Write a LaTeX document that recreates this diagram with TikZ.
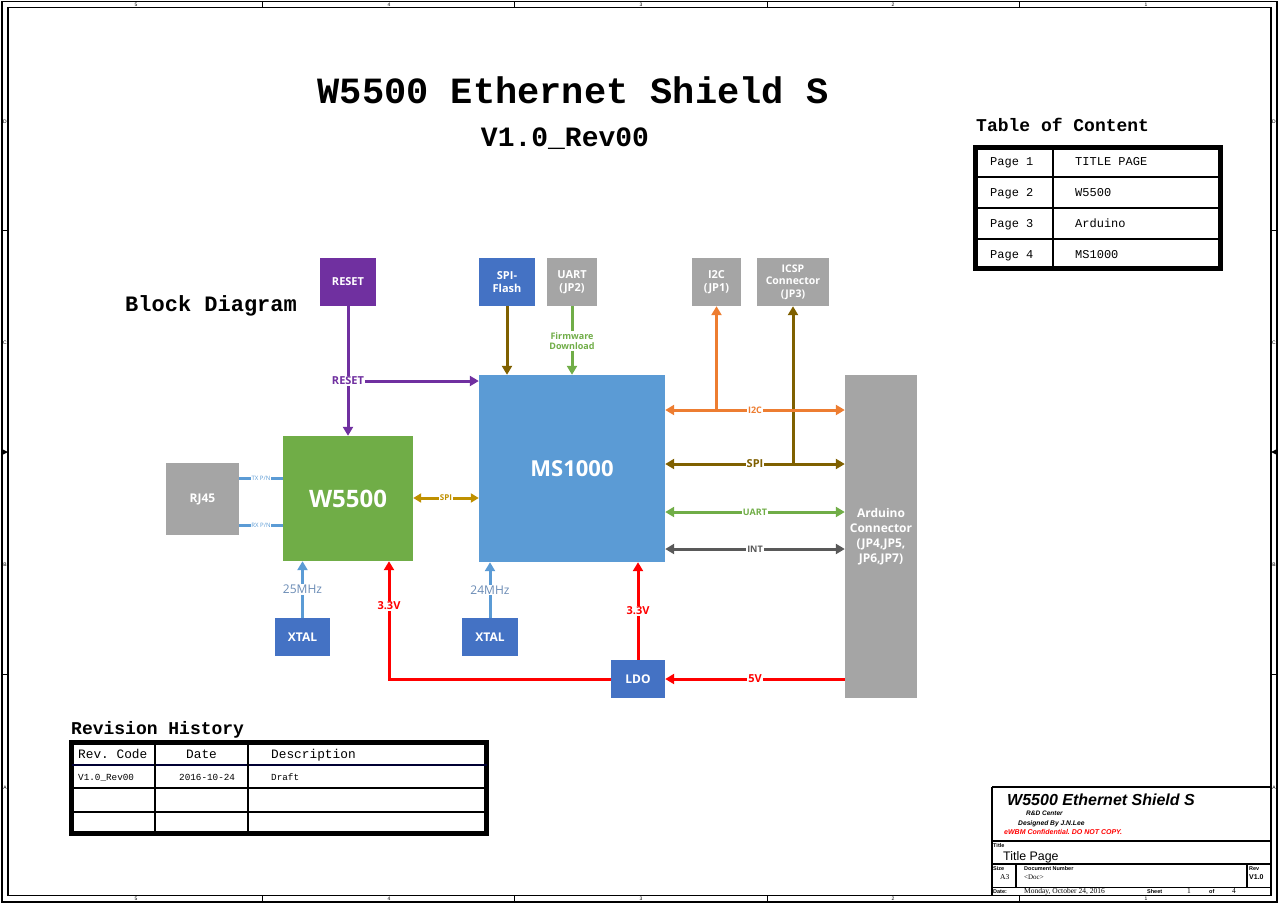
\documentclass[tikz,border=0pt]{standalone}
\usepackage{fontspec}
\setmainfont{Open Sans}
\newfontfamily\courierfont{Liberation Mono}
\newfontfamily\arialfont{Liberation Sans}
\newfontfamily\timesfont{Liberation Serif}
\usetikzlibrary{arrows.meta}
\newcommand{\fsz}[2]{\fontsize{#1}{#2}\selectfont}
\definecolor{viola}{HTML}{7030A0}
\definecolor{bluscuro}{HTML}{4472C4}
\definecolor{azzurro}{HTML}{5B9BD5}
\definecolor{grigio}{HTML}{A5A5A5}
\definecolor{verde}{HTML}{70AD47}
\definecolor{arancio}{HTML}{ED7D31}
\definecolor{marrone}{HTML}{7F6000}
\definecolor{ocra}{HTML}{BF9000}
\definecolor{grigioscuro}{HTML}{595959}
\definecolor{rosso}{HTML}{FF0000}
\definecolor{freqblu}{HTML}{6A8BB5}
\definecolor{navy}{HTML}{000033}
\frenchspacing
\begin{document}
\begin{tikzpicture}[x=1pt, y=-1pt,
  blocco/.style={text=white, font=\bfseries\fsz{11}{13}, align=center, inner sep=0pt},
  filo/.style={line width=3pt},
  freccia/.style={line width=3pt, -{Triangle[width=10pt,length=9pt]}},
  doppia/.style={line width=3pt, {Triangle[width=10pt,length=9pt]}-{Triangle[width=10pt,length=9pt]}},
  etichetta/.style={fill=white, inner sep=1pt, font=\bfseries\fsz{9}{10}, align=center},
  freq/.style={fill=white, inner sep=1pt, text=freqblu, font=\fsz{12}{13}},
  cella/.style={anchor=base west, inner sep=0pt, font=\courierfont\fsz{12}{12}},
  piccolo/.style={anchor=west, inner sep=0pt, font=\arialfont\bfseries\fsz{5.5}{6}},
  zona/.style={inner sep=0pt, font=\arialfont\fsz{5}{5}}]
  \useasboundingbox (0,0) rectangle (1280,905);

  % Cornice del foglio
  \draw[line width=1.2pt] (2,1.5) rectangle (1277,902);
  \draw[line width=1.2pt] (8,7.5) rectangle (1271,895.5);
  \foreach \x in {262,514,767,1019} {
    \draw[line width=0.8pt] (\x,1.5) -- (\x,7.5);
    \draw[line width=0.8pt] (\x,895.5) -- (\x,902);
  }
  \foreach \y in {230,674} {
    \draw[line width=0.8pt] (2,\y) -- (8,\y);
    \draw[line width=0.8pt] (1271,\y) -- (1277,\y);
  }
  \fill (2,449) -- (8,452) -- (2,455) -- cycle;
  \fill (1277,449) -- (1271,452) -- (1277,455) -- cycle;
  \foreach \x/\z in {136/5,389/4,641/3,893/2,1146/1} {
    \node (zt\z) at (\x,4.5) [zona] {\z};
    \node (zb\z) at (\x,899) [zona] {\z};
  }
  \foreach \y/\z in {122/D,343/C,565/B,788/A} {
    \node (zl\z) at (5,\y) [zona] {\z};
    \node (zr\z) at (1274,\y) [zona] {\z};
  }

  % Titoli
  \node (titolo) at (573,90) [font=\courierfont\bfseries\fsz{37}{40}] {W5500 Ethernet Shield S};
  \node (versione) at (565,139) [font=\courierfont\bfseries\fsz{28}{30}] {V1.0\_Rev00};
  \node (blocchi) at (125,311) [anchor=base west, inner sep=0pt, font=\courierfont\bfseries\fsz{22}{24}] {Block Diagram};

  % Indice
  \node (indice) at (976,131) [anchor=base west, inner sep=0pt, font=\courierfont\bfseries\fsz{18}{20}] {Table of Content};
  \draw[line width=5pt] (975.5,147.5) rectangle (1220.5,268.5);
  \draw[line width=1.2pt] (1053,147.5) -- (1053,268.5);
  \foreach \n in {1,2,3} \draw[line width=1.2pt] (975.5,146+31*\n) -- (1220.5,146+31*\n);
  \foreach \n/\t in {1/TITLE PAGE,2/W5500,3/Arduino,4/MS1000} {
    \node (pag\n) at (990,134.5+31*\n) [cella] {Page \n};
    \node (cont\n) at (1075,134.5+31*\n) [cella] {\t};
  }

  % Revisioni
  \node (revisioni) at (71,734) [anchor=base west, inner sep=0pt, font=\courierfont\bfseries\fsz{18}{20}] {Revision History};
  \draw[line width=5pt] (71.5,742.5) rectangle (486.5,833.5);
  \draw[line width=2.5pt, navy] (71.5,765) -- (486.5,765);
  \draw[line width=1.2pt] (71.5,788) -- (486.5,788);
  \draw[line width=1.2pt] (71.5,812) -- (486.5,812);
  \draw[line width=1.2pt] (155,742.5) -- (155,833.5);
  \draw[line width=1.2pt] (248,742.5) -- (248,833.5);
  \node (hcod) at (78,758.5) [cella, font=\courierfont\fsz{12.8}{13}] {Rev. Code};
  \node (hdata) at (186,758.5) [cella, font=\courierfont\fsz{12.8}{13}] {Date};
  \node (hdesc) at (271,758.5) [cella, font=\courierfont\fsz{12.8}{13}] {Description};
  \node (rcod) at (78,780) [cella, font=\courierfont\fsz{9.3}{10}] {V1.0\_Rev00};
  \node (rdata) at (179,780) [cella, font=\courierfont\fsz{9.3}{10}] {2016-10-24};
  \node (rdesc) at (271,780) [cella, font=\courierfont\fsz{9.3}{10}] {Draft};

  % Cartiglio
  \draw[line width=1.2pt] (992,787) -- (1271,787);
  \draw[line width=1.2pt] (992,787) -- (992,895.5);
  \draw[line width=1.2pt] (992,841) -- (1271,841);
  \draw[line width=1.2pt] (992,864) -- (1271,864);
  \draw[line width=1.2pt] (992,887.5) -- (1271,887.5);
  \draw[line width=1.2pt] (1016,864) -- (1016,887.5);
  \draw[line width=1.2pt] (1247,864) -- (1247,887.5);
  \node (ctitolo) at (1007,800) [anchor=west, inner sep=0pt, font=\arialfont\bfseries\itshape\fsz{16}{16}] {W5500 Ethernet Shield S};
  \node (crd) at (1026,813) [anchor=west, inner sep=0pt, font=\arialfont\bfseries\itshape\fsz{6.5}{7}] {R\&D Center};
  \node (cdis) at (1018,823.5) [anchor=west, inner sep=0pt, font=\arialfont\bfseries\itshape\fsz{6.7}{7}] {Designed By J.N.Lee};
  \node (cconf) at (1004,832) [anchor=west, inner sep=0pt, text=rosso, font=\arialfont\bfseries\itshape\fsz{7}{7}] {eWBM Confidential. DO NOT COPY.};
  \node (ltit) at (993,845.5) [piccolo] {Title};
  \node (ctp) at (1003,857) [anchor=west, inner sep=0pt, font=\arialfont\fsz{12.4}{13}] {Title Page};
  \node (lsize) at (993,868.5) [piccolo] {Size};
  \node (csize) at (1000,877) [anchor=west, inner sep=0pt, font=\timesfont\fsz{7.5}{8}] {A3};
  \node (ldoc) at (1024,868.5) [piccolo] {Document Number};
  \node (cdoc) at (1024,877) [anchor=west, inner sep=0pt, font=\timesfont\fsz{7}{8}] {<Doc>};
  \node (lrev) at (1249,868.5) [piccolo] {Rev};
  \node (crev) at (1249,877.5) [piccolo, font=\arialfont\bfseries\fsz{7}{7}] {V1.0};
  \node (ldate) at (993,891.5) [piccolo] {Date:};
  \node (cdate) at (1024,891.5) [anchor=west, inner sep=0pt, font=\timesfont\fsz{7.5}{8}] {Monday, October 24, 2016};
  \node (lsheet) at (1147,891.5) [piccolo] {Sheet};
  \node (csheet) at (1187,891.5) [anchor=west, inner sep=0pt, font=\timesfont\fsz{7.5}{8}] {1};
  \node (lof) at (1209,891.5) [piccolo] {of};
  \node (ctot) at (1232,891.5) [anchor=west, inner sep=0pt, font=\timesfont\fsz{7.5}{8}] {4};

  % Blocchi superiori
  \node (reset) at (348,282) [blocco, fill=viola, minimum width=56pt, minimum height=48pt] {RESET};
  \node (flash) at (507,282) [blocco, fill=bluscuro, minimum width=56pt, minimum height=48pt] {SPI-\\Flash};
  \node (uart) at (572,282) [blocco, fill=grigio, minimum width=50pt, minimum height=48pt] {UART\\(JP2)};
  \node (itc) at (716.5,282) [blocco, fill=grigio, minimum width=49pt, minimum height=48pt] {I2C\\(JP1)};
  \node (icsp) at (793,282) [blocco, fill=grigio, minimum width=72pt, minimum height=48pt, font=\bfseries\fsz{10.5}{12.5}] {ICSP\\Connector\\(JP3)};

  % Blocchi principali
  \node (ms) at (572,468.5) [blocco, fill=azzurro, minimum width=186pt, minimum height=187pt, font=\bfseries\fsz{22}{24}] {MS1000};
  \node (w55) at (348,498.5) [blocco, fill=verde, minimum width=130pt, minimum height=125pt, font=\bfseries\fsz{24}{26}] {W5500};
  \node (rj) at (202.5,499) [blocco, fill=grigio, minimum width=73pt, minimum height=72pt, font=\bfseries\fsz{12}{13}] {RJ45};
  \node (xtala) at (302.5,637) [blocco, fill=bluscuro, minimum width=55pt, minimum height=38pt, font=\bfseries\fsz{12}{13}] {XTAL};
  \node (xtalb) at (490,637) [blocco, fill=bluscuro, minimum width=56pt, minimum height=38pt, font=\bfseries\fsz{12}{13}] {XTAL};
  \node (ldo) at (638,679) [blocco, fill=bluscuro, minimum width=54pt, minimum height=38pt, font=\bfseries\fsz{12}{13}] {LDO};
  \node (ard) at (881,536.5) [blocco, fill=grigio, minimum width=72pt, minimum height=323pt, font=\bfseries\fsz{12}{15}] {Arduino\\Connector\\(JP4,JP5,\\JP6,JP7)};

  % Collegamenti in alto
  \node (lreset) at (348,381) [etichetta, text=viola, font=\bfseries\fsz{11}{12}] {RESET};
  \draw[filo, viola] (reset) -- (lreset);
  \draw[freccia, viola] (lreset) -- (w55);
  \draw[freccia, viola] (lreset.east) -- (ms.west |- lreset.east);
  \draw[freccia, marrone] (flash.south) -- (flash.south |- ms.north);
  \node (lfw) at (572,341) [etichetta, text=verde] {Firmware\\Download};
  \draw[filo, verde] (uart) -- (lfw);
  \draw[freccia, verde] (lfw) -- (ms);

  % Collegamenti verso Arduino
  \coordinate (ji2c) at (716.5,410);
  \coordinate (jicsp) at (793,464);
  \draw[freccia, arancio] (ji2c) -- (ji2c |- itc.south);
  \draw[freccia, marrone] (jicsp) -- (jicsp |- icsp.south);
  \draw[doppia, arancio] (ms.east |- ji2c) -- node[etichetta, text=arancio] {I2C} (ard.west |- ji2c);
  \draw[doppia, marrone] (ms.east |- jicsp) -- node[etichetta, text=marrone, font=\bfseries\fsz{11}{12}] {SPI} (ard.west |- jicsp);
  \draw[doppia, verde] (ms.east |- 0,512) -- node[etichetta, text=verde] {UART} (ard.west |- 0,512);
  \draw[doppia, grigioscuro] (ms.east |- 0,549) -- node[etichetta, text=grigioscuro] {INT} (ard.west |- 0,549);

  % Alimentazione
  \coordinate (c33) at (389,679);
  \draw[freccia, rosso] (ard.west |- ldo) -- node[etichetta, text=rosso, font=\bfseries\fsz{11}{12}] {5V} (ldo.east);
  \draw[freccia, rosso] (ldo.north) -- node[etichetta, text=rosso, font=\bfseries\fsz{11}{12}] {3.3V} (ldo.north |- ms.south);
  \draw[freccia, rosso] (ldo.west) -- (c33) -- node[pos=0.62, etichetta, text=rosso, font=\bfseries\fsz{11}{12}] {3.3V} (c33 |- w55.south);

  % Collegamenti W5500
  \draw[doppia, ocra, {Triangle[width=9pt,length=8pt]}-{Triangle[width=9pt,length=8pt]}] (w55.east |- 0,498) -- node[etichetta, text=ocra, font=\bfseries\fsz{8}{9}] {SPI} (ms.west |- 0,498);
  \draw[filo, azzurro] (rj.east |- 0,478) -- node[fill=white, inner sep=0.5pt, text=azzurro, font=\fsz{6}{6}] {TX P/N} (w55.west |- 0,478);
  \draw[filo, azzurro] (rj.east |- 0,525) -- node[fill=white, inner sep=0.5pt, text=azzurro, font=\fsz{6}{6}] {RX P/N} (w55.west |- 0,525);
  \draw[freccia, azzurro] (xtala.north) -- node[freq] {25MHz} (xtala.north |- w55.south);
  \draw[freccia, azzurro] (xtalb.north) -- node[freq] {24MHz} (xtalb.north |- ms.south);
\end{tikzpicture}
\end{document}
